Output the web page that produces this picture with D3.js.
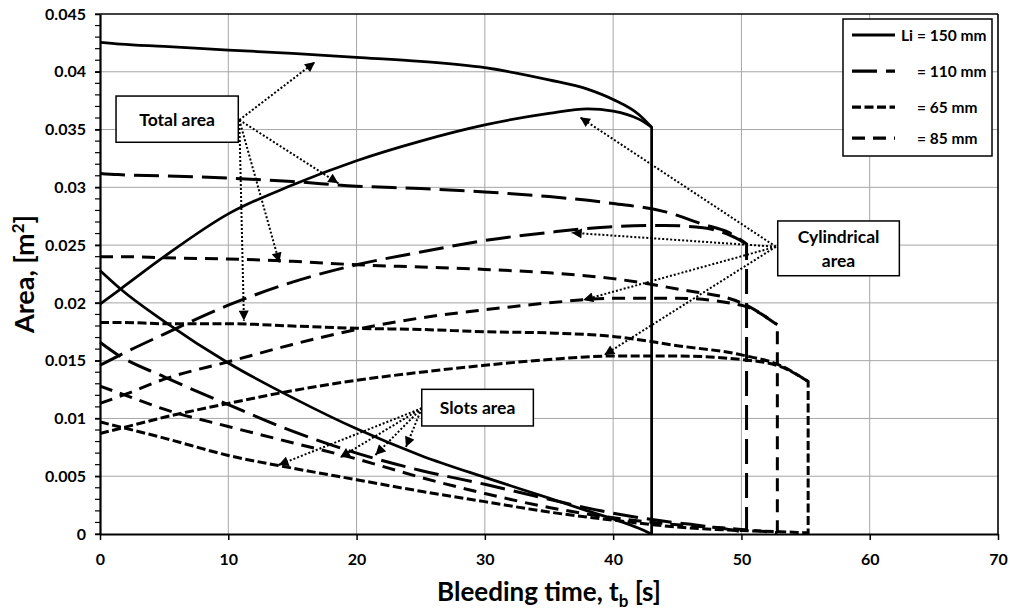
<!DOCTYPE html>
<html>
<head>
<meta charset="utf-8">
<script src="https://cdn.jsdelivr.net/npm/d3@7"></script>
<style>
  body { margin: 0; background: #fff; }
  text { font-family: Lato, "Open Sans", sans-serif; font-weight: 700; fill: #000; }
</style>
</head>
<body>
<svg id="chart" width="1010" height="612"></svg>
<script>
// ---- Data: areas [m^2] versus bleeding time [s] for four inlet lengths ----
const xTicks = [0, 10, 20, 30, 40, 50, 60, 70];
const xTickLabels = ["0", "10", "20", "30", "40", "50", "60", "70"];
const yTicks = [0, 0.005, 0.01, 0.015, 0.02, 0.025, 0.03, 0.035, 0.04, 0.045];
const yTickLabels = ["0", "0.005", "0.01", "0.015", "0.02", "0.025", "0.03", "0.035", "0.04", "0.045"];

// Li = 150 mm
const li150Time  = [0, 1.6, 5, 10, 15, 20, 25, 30, 35, 38, 40, 42, 43];
const li150Total = [0.04255, 0.0424, 0.0422, 0.04188, 0.0416, 0.04125, 0.0409, 0.04035, 0.0393, 0.0385, 0.0376, 0.0363, 0.0352];
const li150Cyl   = [0.0199, 0.0212, 0.0240, 0.0277, 0.0302, 0.0323, 0.0340, 0.0354, 0.0364, 0.0368, 0.0366, 0.0359, 0.0352];
const li150Slots = [0.0228, 0.0212, 0.0184, 0.0148, 0.0118, 0.0091, 0.0068, 0.0049, 0.0031, 0.0020, 0.0013, 0.0005, 0.0];

// Li = 110 mm
const li110Time  = [0, 1.4, 5, 10, 15, 20, 25, 30, 35, 40, 44, 47, 49, 50.4];
const li110Total = [0.0312, 0.0311, 0.0310, 0.0308, 0.0305, 0.0301, 0.0299, 0.0296, 0.0292, 0.0286, 0.0279, 0.0268, 0.0261, 0.0251];
const li110Cyl   = [0.0146, 0.0154, 0.0173, 0.0198, 0.0218, 0.0233, 0.0244, 0.0254, 0.0261, 0.0266, 0.0267, 0.0265, 0.0259, 0.0251];
const li110Slots = [0.0166, 0.0155, 0.0136, 0.0112, 0.0089, 0.0070, 0.0055, 0.0043, 0.0030, 0.0018, 0.0011, 0.0007, 0.0004, 0.0001];

// Li = 85 mm
const li85Time  = [0, 2, 5, 10, 15, 20, 25, 30, 35, 40, 45, 50, 52.8];
const li85Total = [0.0240, 0.0240, 0.0239, 0.0238, 0.0236, 0.0233, 0.0231, 0.0229, 0.0226, 0.0221, 0.0212, 0.0200, 0.0181];
const li85Cyl   = [0.0113, 0.0121, 0.0134, 0.0149, 0.0164, 0.0177, 0.0187, 0.0194, 0.0200, 0.0204, 0.0204, 0.0198, 0.0181];
const li85Slots = [0.0128, 0.0120, 0.0108, 0.0093, 0.0079, 0.0065, 0.0049, 0.0035, 0.0023, 0.0014, 0.0008, 0.0004, 0.0001];

// Li = 65 mm
const li65Time  = [0, 1.8, 5, 10, 15, 20, 25, 30, 35, 40, 45, 50, 53, 55.2];
const li65Total = [0.0183, 0.0183, 0.0182, 0.0182, 0.0180, 0.0178, 0.0177, 0.0175, 0.0174, 0.0171, 0.0163, 0.0155, 0.0146, 0.0132];
const li65Cyl   = [0.0087, 0.0092, 0.0101, 0.0113, 0.0124, 0.0133, 0.0140, 0.0146, 0.0151, 0.0154, 0.0154, 0.0151, 0.0145, 0.0132];
const li65Slots = [0.0097, 0.0092, 0.0083, 0.0068, 0.0057, 0.0047, 0.0037, 0.0028, 0.0019, 0.0012, 0.0006, 0.0003, 0.0002, 0.0001];

// time at which each total/cylindrical curve drops to zero
const dropTimes = [43.0, 50.4, 52.8, 55.2];

const legendLabels = ["= 150 mm", "= 110 mm", "= 65 mm", "= 85 mm"];

// ---- Layout ----
const svg = d3.select("#chart");
const x = d3.scaleLinear().domain([0, 70]).range([100, 998]);
const y = d3.scaleLinear().domain([0, 0.045]).range([534, 14]);

// Line styles per inlet length
const styles = {
  li150: { dash: null,      width: 2.75 },
  li110: { dash: "25,9",    width: 3 },
  li85:  { dash: "13,8",    width: 3 },
  li65:  { dash: "9,3.5",   width: 3 }
};

// ---- Gridlines ----
const grid = svg.append("g").attr("stroke", "#a6a6a6").attr("stroke-width", 1);
grid.selectAll("line.v").data(xTicks.filter(t => t > 0 && t < 70)).join("line")
  .attr("x1", d => x(d)).attr("x2", d => x(d)).attr("y1", y(0)).attr("y2", y(0.045));
grid.selectAll("line.h").data(yTicks.filter(v => v > 0 && v < 0.045)).join("line")
  .attr("x1", x(0)).attr("x2", x(70)).attr("y1", d => y(d)).attr("y2", d => y(d));

// ---- Curves ----
function curvePath(times, vals, dropT) {
  const pts = times.map((t, i) => [x(t), y(vals[i])]);
  let d = d3.line().curve(d3.curveMonotoneX)(pts);
  if (dropT != null) d += `L${x(dropT)},${y(0)}`;
  return d;
}

const groups = [
  { key: "li150", time: li150Time, total: li150Total, cyl: li150Cyl, slots: li150Slots, drop: dropTimes[0] },
  { key: "li110", time: li110Time, total: li110Total, cyl: li110Cyl, slots: li110Slots, drop: dropTimes[1] },
  { key: "li85",  time: li85Time,  total: li85Total,  cyl: li85Cyl,  slots: li85Slots,  drop: dropTimes[2] },
  { key: "li65",  time: li65Time,  total: li65Total,  cyl: li65Cyl,  slots: li65Slots,  drop: dropTimes[3] }
];

const curves = svg.append("g").attr("fill", "none").attr("stroke", "#000").attr("stroke-linecap", "butt");
groups.forEach(g => {
  const st = styles[g.key];
  const paths = [
    curvePath(g.time, g.slots, null),
    curvePath(g.time, g.cyl, null),
    curvePath(g.time, g.total, g.drop)
  ];
  paths.forEach(d => {
    curves.append("path").attr("d", d)
      .attr("stroke-width", st.width)
      .attr("stroke-dasharray", st.dash);
  });
});

// ---- Axes ----
const yAxis = d3.axisLeft(y).tickValues(yTicks).tickSize(5).tickSizeOuter(0).tickPadding(9)
  .tickFormat((d, i) => yTickLabels[i]);
const yAxisG = svg.append("g").attr("transform", `translate(${x(0)},0)`).call(yAxis);
// minor ticks every 0.001
const minor = d3.range(0, 0.0451, 0.001);
svg.append("g").selectAll("line").data(minor).join("line")
  .attr("x1", x(0) - 5).attr("x2", x(0)).attr("y1", d => y(d)).attr("y2", d => y(d))
  .attr("stroke", "#000").attr("stroke-width", 1.2);

const xAxis = d3.axisBottom(x).tickValues(xTicks).tickSize(6).tickSizeOuter(0).tickPadding(14)
  .tickFormat((d, i) => xTickLabels[i]);
const xAxisG = svg.append("g").attr("transform", `translate(0,${y(0)})`).call(xAxis);

[yAxisG, xAxisG].forEach(g => {
  g.select(".domain").attr("stroke", "#000").attr("stroke-width", 2.2);
  g.selectAll(".tick line").attr("stroke", "#000").attr("stroke-width", 1.5);
  g.selectAll(".tick text").style("font-size", "16px").style("font-family", "Lato, sans-serif").style("font-weight", 700).attr("fill", "#000");
});

// top and right frame
svg.append("line").attr("x1", x(0)).attr("x2", x(70)).attr("y1", y(0.045)).attr("y2", y(0.045))
  .attr("stroke", "#000").attr("stroke-width", 1.6);
svg.append("line").attr("x1", x(70)).attr("x2", x(70)).attr("y1", y(0.045)).attr("y2", y(0))
  .attr("stroke", "#000").attr("stroke-width", 1.6);

// ---- Axis titles ----
const yTitle = svg.append("text")
  .attr("transform", `translate(34,${(y(0) + y(0.045)) / 2}) rotate(-90)`)
  .attr("text-anchor", "middle").style("font-size", "27px");
yTitle.append("tspan").text("Area, [m");
yTitle.append("tspan").attr("dy", -10).style("font-size", "17px").text("2");
yTitle.append("tspan").attr("dy", 10).text("]");

const xTitle = svg.append("text")
  .attr("x", (x(0) + x(70)) / 2).attr("y", 601)
  .attr("text-anchor", "middle").style("font-size", "26px");
xTitle.append("tspan").text("Bleeding time, t");
xTitle.append("tspan").attr("dy", 6).style("font-size", "17px").text("b");
xTitle.append("tspan").attr("dy", -6).text(" [s]");

// ---- Annotations: labelled boxes with dotted arrows ----
const defs = svg.append("defs");
defs.append("marker").attr("id", "tip")
  .attr("viewBox", "0 0 10 10").attr("refX", 10).attr("refY", 5)
  .attr("markerWidth", 11).attr("markerHeight", 10).attr("markerUnits", "userSpaceOnUse")
  .attr("orient", "auto")
  .append("path").attr("d", "M0,0L10,5L0,10Z").attr("fill", "#000");

const notes = [
  { lines: ["Total area"], box: [1.25, 10.78, 0.0379, 0.0339], from: [10.86, 0.03583],
    tips: [[16.76, 0.04084], [18.58, 0.03035], [13.98, 0.02348], [11.22, 0.01846]] },
  { lines: ["Cylindrical", "area"], box: [52.83, 62.31, 0.02709, 0.02235], from: [52.69, 0.02486],
    tips: [[37.42, 0.03606], [36.77, 0.02607], [37.67, 0.02025], [39.31, 0.01549]] },
  { lines: ["Slots area"], box: [25.08, 33.78, 0.01252, 0.00935], from: [25.08, 0.01088],
    tips: [[13.91, 0.00597], [18.71, 0.00662], [21.47, 0.00684], [23.85, 0.00753]] }
];

const noteG = svg.append("g");
notes.forEach(n => {
  n.tips.forEach(tp => {
    noteG.append("line")
      .attr("x1", x(n.from[0])).attr("y1", y(n.from[1]))
      .attr("x2", x(tp[0])).attr("y2", y(tp[1]))
      .attr("stroke", "#000").attr("stroke-width", 2).attr("stroke-dasharray", "2,2")
      .attr("marker-end", "url(#tip)");
  });
  const bx0 = x(n.box[0]), bx1 = x(n.box[1]), by0 = y(n.box[2]), by1 = y(n.box[3]);
  noteG.append("rect").attr("x", bx0).attr("y", by0).attr("width", bx1 - bx0).attr("height", by1 - by0)
    .attr("fill", "#fff").attr("stroke", "#000").attr("stroke-width", 1.5);
  const cy = (by0 + by1) / 2;
  const lh = 24;
  const first = n.lines.length > 1 ? cy - 5 : cy + 6.5;
  n.lines.forEach((s, i) => {
    noteG.append("text").attr("x", (bx0 + bx1) / 2).attr("y", first + i * lh)
      .attr("text-anchor", "middle").style("font-size", "17.5px").text(s);
  });
});

// ---- Legend ----
const legend = svg.append("g");
legend.append("rect").attr("x", 843).attr("y", 19).attr("width", 149).attr("height", 137)
  .attr("fill", "#fff").attr("stroke", "#000").attr("stroke-width", 1.5);
const legendOrder = ["li150", "li110", "li65", "li85"];
const rowY = [35, 71, 107, 138];
legendOrder.forEach((k, i) => {
  const st = styles[k];
  legend.append("line").attr("x1", 852).attr("x2", 895).attr("y1", rowY[i]).attr("y2", rowY[i])
    .attr("stroke", "#000").attr("stroke-width", st.width + 0.25).attr("stroke-dasharray", st.dash);
  legend.append("text").attr("x", 917).attr("y", rowY[i] + 5.5).style("font-size", "15.5px").text(legendLabels[i]);
});
legend.append("text").attr("x", 913).attr("y", rowY[0] + 5.5).attr("text-anchor", "end")
  .style("font-size", "15.5px").text("Li");
</script>
</body>
</html>
